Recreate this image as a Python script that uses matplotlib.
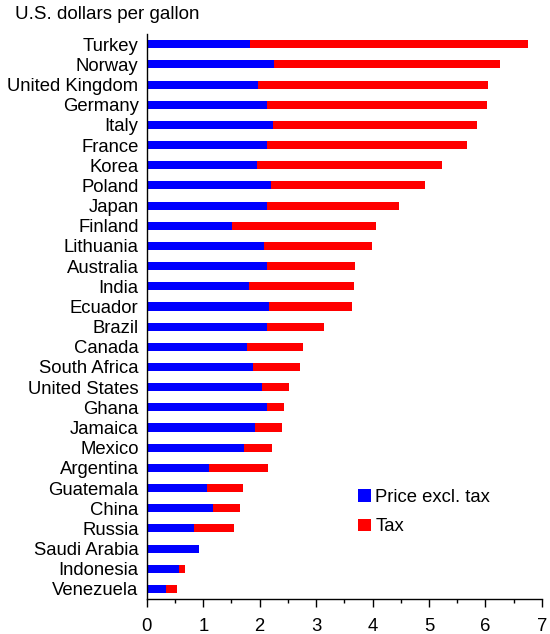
import matplotlib.pyplot as plt
from matplotlib.ticker import MultipleLocator

plt.rcParams['font.family'] = ['Liberation Sans', 'DejaVu Sans']

# data (US$ per gallon)
countries = ['Turkey', 'Norway', 'United Kingdom', 'Germany', 'Italy', 'France',
             'Korea', 'Poland', 'Japan', 'Finland', 'Lithuania', 'Australia',
             'India', 'Ecuador', 'Brazil', 'Canada', 'South Africa',
             'United States', 'Ghana', 'Jamaica', 'Mexico', 'Argentina',
             'Guatemala', 'China', 'Russia', 'Saudi Arabia', 'Indonesia',
             'Venezuela']
price_excl_tax = [1.82, 2.25, 1.97, 2.13, 2.23, 2.13, 1.95, 2.20, 2.13, 1.51,
                  2.07, 2.13, 1.81, 2.16, 2.13, 1.77, 1.88, 2.04, 2.13, 1.91,
                  1.72, 1.10, 1.06, 1.18, 0.83, 0.92, 0.57, 0.34]
total_price = [6.75, 6.26, 6.04, 6.03, 5.85, 5.67, 5.23, 4.93, 4.47, 4.06,
               3.99, 3.69, 3.67, 3.63, 3.14, 2.77, 2.71, 2.52, 2.43, 2.39,
               2.21, 2.14, 1.70, 1.65, 1.54, 0.92, 0.67, 0.53]
tax = [t - p for t, p in zip(total_price, price_excl_tax)]

fig = plt.figure(figsize=(5.5, 6.34), dpi=100)
ax = fig.add_axes([0.267, 0.0552, 0.718, 0.891])

ypos = list(range(len(countries)))
ax.barh(ypos, price_excl_tax, height=0.4, color='#0000FF', label='Price excl. tax')
ax.barh(ypos, tax, left=price_excl_tax, height=0.4, color='#FF0000', label='Tax')

ax.set_ylim(len(countries) - 0.5, -0.5)
ax.set_xlim(0, 7)
ax.set_yticks(ypos)
ax.set_yticklabels(countries, fontsize=13.3)
ax.tick_params(axis='y', length=0, pad=6)
ax.xaxis.set_major_locator(MultipleLocator(1))
ax.xaxis.set_minor_locator(MultipleLocator(0.5))
ax.tick_params(axis='x', which='major', length=6, width=1, labelsize=13.3, pad=8)
ax.tick_params(axis='x', which='minor', length=3, width=1)
for s in ['top', 'right']:
    ax.spines[s].set_visible(False)
for s in ['left', 'bottom']:
    ax.spines[s].set_linewidth(1)

ax.legend(loc='upper left', bbox_to_anchor=(0.492, 0.225), frameon=False,
          fontsize=13.3, handlelength=0.7, handleheight=0.7, handletextpad=0.25,
          labelspacing=0.7)

fig.text(0.027, 0.977, 'U.S. dollars per gallon', fontsize=13.5, va='center', ha='left')

fig.savefig('out.png', dpi=100)
